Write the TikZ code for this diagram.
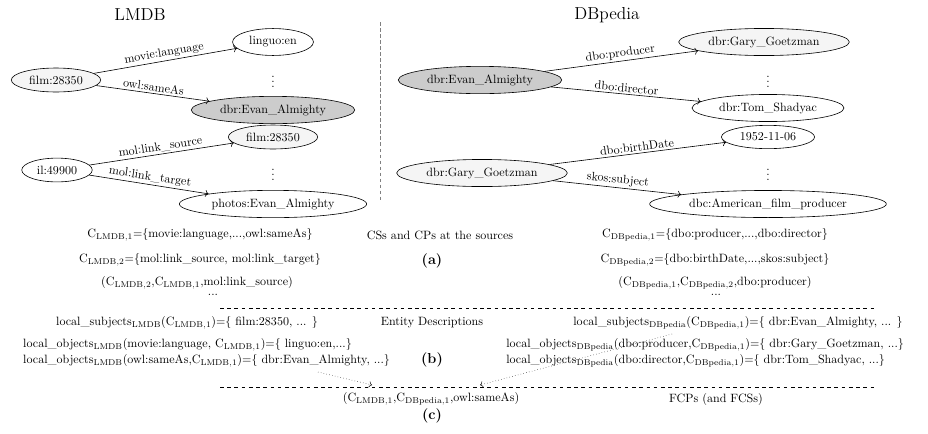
\documentclass[tikz,border=0pt]{standalone}
\usetikzlibrary{shapes.geometric,arrows.meta}
\newcommand\sbs[1]{$_{\mathrm{#1}}$}
\begin{document}
\begin{tikzpicture}[x=0.83pt,y=-0.83pt,
  ent/.style={ellipse,draw,line width=0.5pt,inner xsep=4pt,inner ysep=3.4pt},
  lit/.style={ent,fill=gray!8},
  drk/.style={ent,fill=gray!40},
  rel/.style={->,line width=0.5pt},
  lab/.style={sloped,above,inner sep=1.5pt},
  ttl/.style={font=\Large},
  tag/.style={font=\large\bfseries},
  sep/.style={dashed,line width=0.5pt},
  vsep/.style={densely dashed,gray,line width=0.6pt},
  dts/.style={inner sep=0pt},
  link/.style={dotted,->,line width=0.4pt}
]
\useasboundingbox (0,0) rectangle (928,433);
% titles
\node[ttl] (t1) at (140,15) {LMDB};
\node[ttl] (t2) at (607,15) {DBpedia};
\coordinate (vt) at (380,22);
\coordinate (vb) at (380,200);
\draw[vsep] (vt) -- (vb);
% LMDB graph
\node[lit] (f1) at (56,80) {film:28350};
\node[ent] (le) at (273,42) {linguo:en};
\node[dts] (d1) at (273,78) {$\vdots$};
\node[drk] (ea) at (273,110) {dbr:Evan\_Almighty};
\node[lit] (f2) at (273,137) {film:28350};
\node[ent] (il) at (57,170) {il:49900};
\node[dts] (d2) at (273,171) {$\vdots$};
\node[ent] (pe) at (273,204) {photos:Evan\_Almighty};
\draw[rel] (f1) -- node[lab]{movie:language} (le);
\draw[rel] (f1) -- node[lab]{owl:sameAs} (ea);
\draw[rel] (il) -- node[lab]{mol:link\_source} (f2);
\draw[rel] (il) -- node[lab]{mol:link\_target} (pe);
% DBpedia graph
\node[drk] (eb) at (480,80) {dbr:Evan\_Almighty};
\node[lit] (g1) at (764,42) {dbr:Gary\_Goetzman};
\node[dts] (d3) at (768,78) {$\vdots$};
\node[ent] (ts) at (768,108) {dbr:Tom\_Shadyac};
\node[ent] (bd) at (768,137) {1952-11-06};
\node[lit] (g2) at (482,173) {dbr:Gary\_Goetzman};
\node[dts] (d4) at (768,171) {$\vdots$};
\node[ent] (am) at (768,204) {dbc:American\_film\_producer};
\draw[rel] (eb) -- node[lab]{dbo:producer} (g1);
\draw[rel] (eb) -- node[lab]{dbo:director} (ts);
\draw[rel] (g2) -- node[lab]{dbo:birthDate} (bd);
\draw[rel] (g2) -- node[lab]{skos:subject} (am);
% (a)
\node (c1) at (200,235) {C\sbs{LMDB,1}=\{movie:language,...,owl:sameAs\}};
\node (ca) at (440,235) {CSs and CPs at the sources};
\node (c3) at (715,235) {C\sbs{DBpedia,1}=\{dbo:producer,...,dbo:director\}};
\node (c2) at (200,260) {C\sbs{LMDB,2}=\{mol:link\_source, mol:link\_target\}};
\node[tag] (a) at (432,261) {(a)};
\node (c4) at (715,260) {C\sbs{DBpedia,2}=\{dbo:birthDate,...,skos:subject\}};
\node (p1) at (197,283) {(C\sbs{LMDB,2},C\sbs{LMDB,1},mol:link\_source)};
\node (p2) at (715,283) {(C\sbs{DBpedia,1},C\sbs{DBpedia,2},dbo:producer)};
\node (e1) at (213,295) {...};
\node (e2) at (716,295) {...};
\coordinate (h1l) at (220,308);
\coordinate (h1r) at (876,308);
\draw[sep] (h1l) -- (h1r);
% (b)
\node (s1) at (187,323) {local\_subjects\sbs{LMDB}(C\sbs{LMDB,1})=\{ film:28350, ... \}};
\node (ed) at (432,323) {Entity Descriptions};
\node (s2) at (738,323) {local\_subjects\sbs{DBpedia}(C\sbs{DBpedia,1})=\{ dbr:Evan\_Almighty, ... \}};
\node[anchor=west,inner sep=0pt] (o1) at (23,345) {local\_objects\sbs{LMDB}(movie:language, C\sbs{LMDB,1})=\{ linguo:en,...\}};
\node[anchor=west,inner sep=0pt] (o2) at (23,361) {local\_objects\sbs{LMDB}(owl:sameAs,C\sbs{LMDB,1})=\{ dbr:Evan\_Almighty, ...\}};
\node[tag] (b) at (432,360) {(b)};
\node[anchor=west,inner sep=0pt] (o3) at (506,345) {local\_objects\sbs{DBpedia}(dbo:producer,C\sbs{DBpedia,1})=\{ dbr:Gary\_Goetzman, ...\}};
\node[anchor=west,inner sep=0pt] (o4) at (506,361) {local\_objects\sbs{DBpedia}(dbo:director,C\sbs{DBpedia,1})=\{ dbr:Tom\_Shadyac, ...\}};
\coordinate (h2l) at (220,387);
\coordinate (h2r) at (876,387);
\draw[sep] (h2l) -- (h2r);
% (c)
\node (fc) at (431,399) {(C\sbs{LMDB,1},C\sbs{DBpedia,1},owl:sameAs)};
\node (fl) at (716,399) {FCPs (and FCSs)};
\node[tag] (c) at (432,416) {(c)};
\coordinate (l1s) at (318,372);
\coordinate (l1e) at (372,385);
\coordinate (l2s) at (672,334);
\coordinate (l2e) at (480,385);
\draw[link] (l1s) -- (l1e);
\draw[link] (l2s) -- (l2e);
\end{tikzpicture}
\end{document}
